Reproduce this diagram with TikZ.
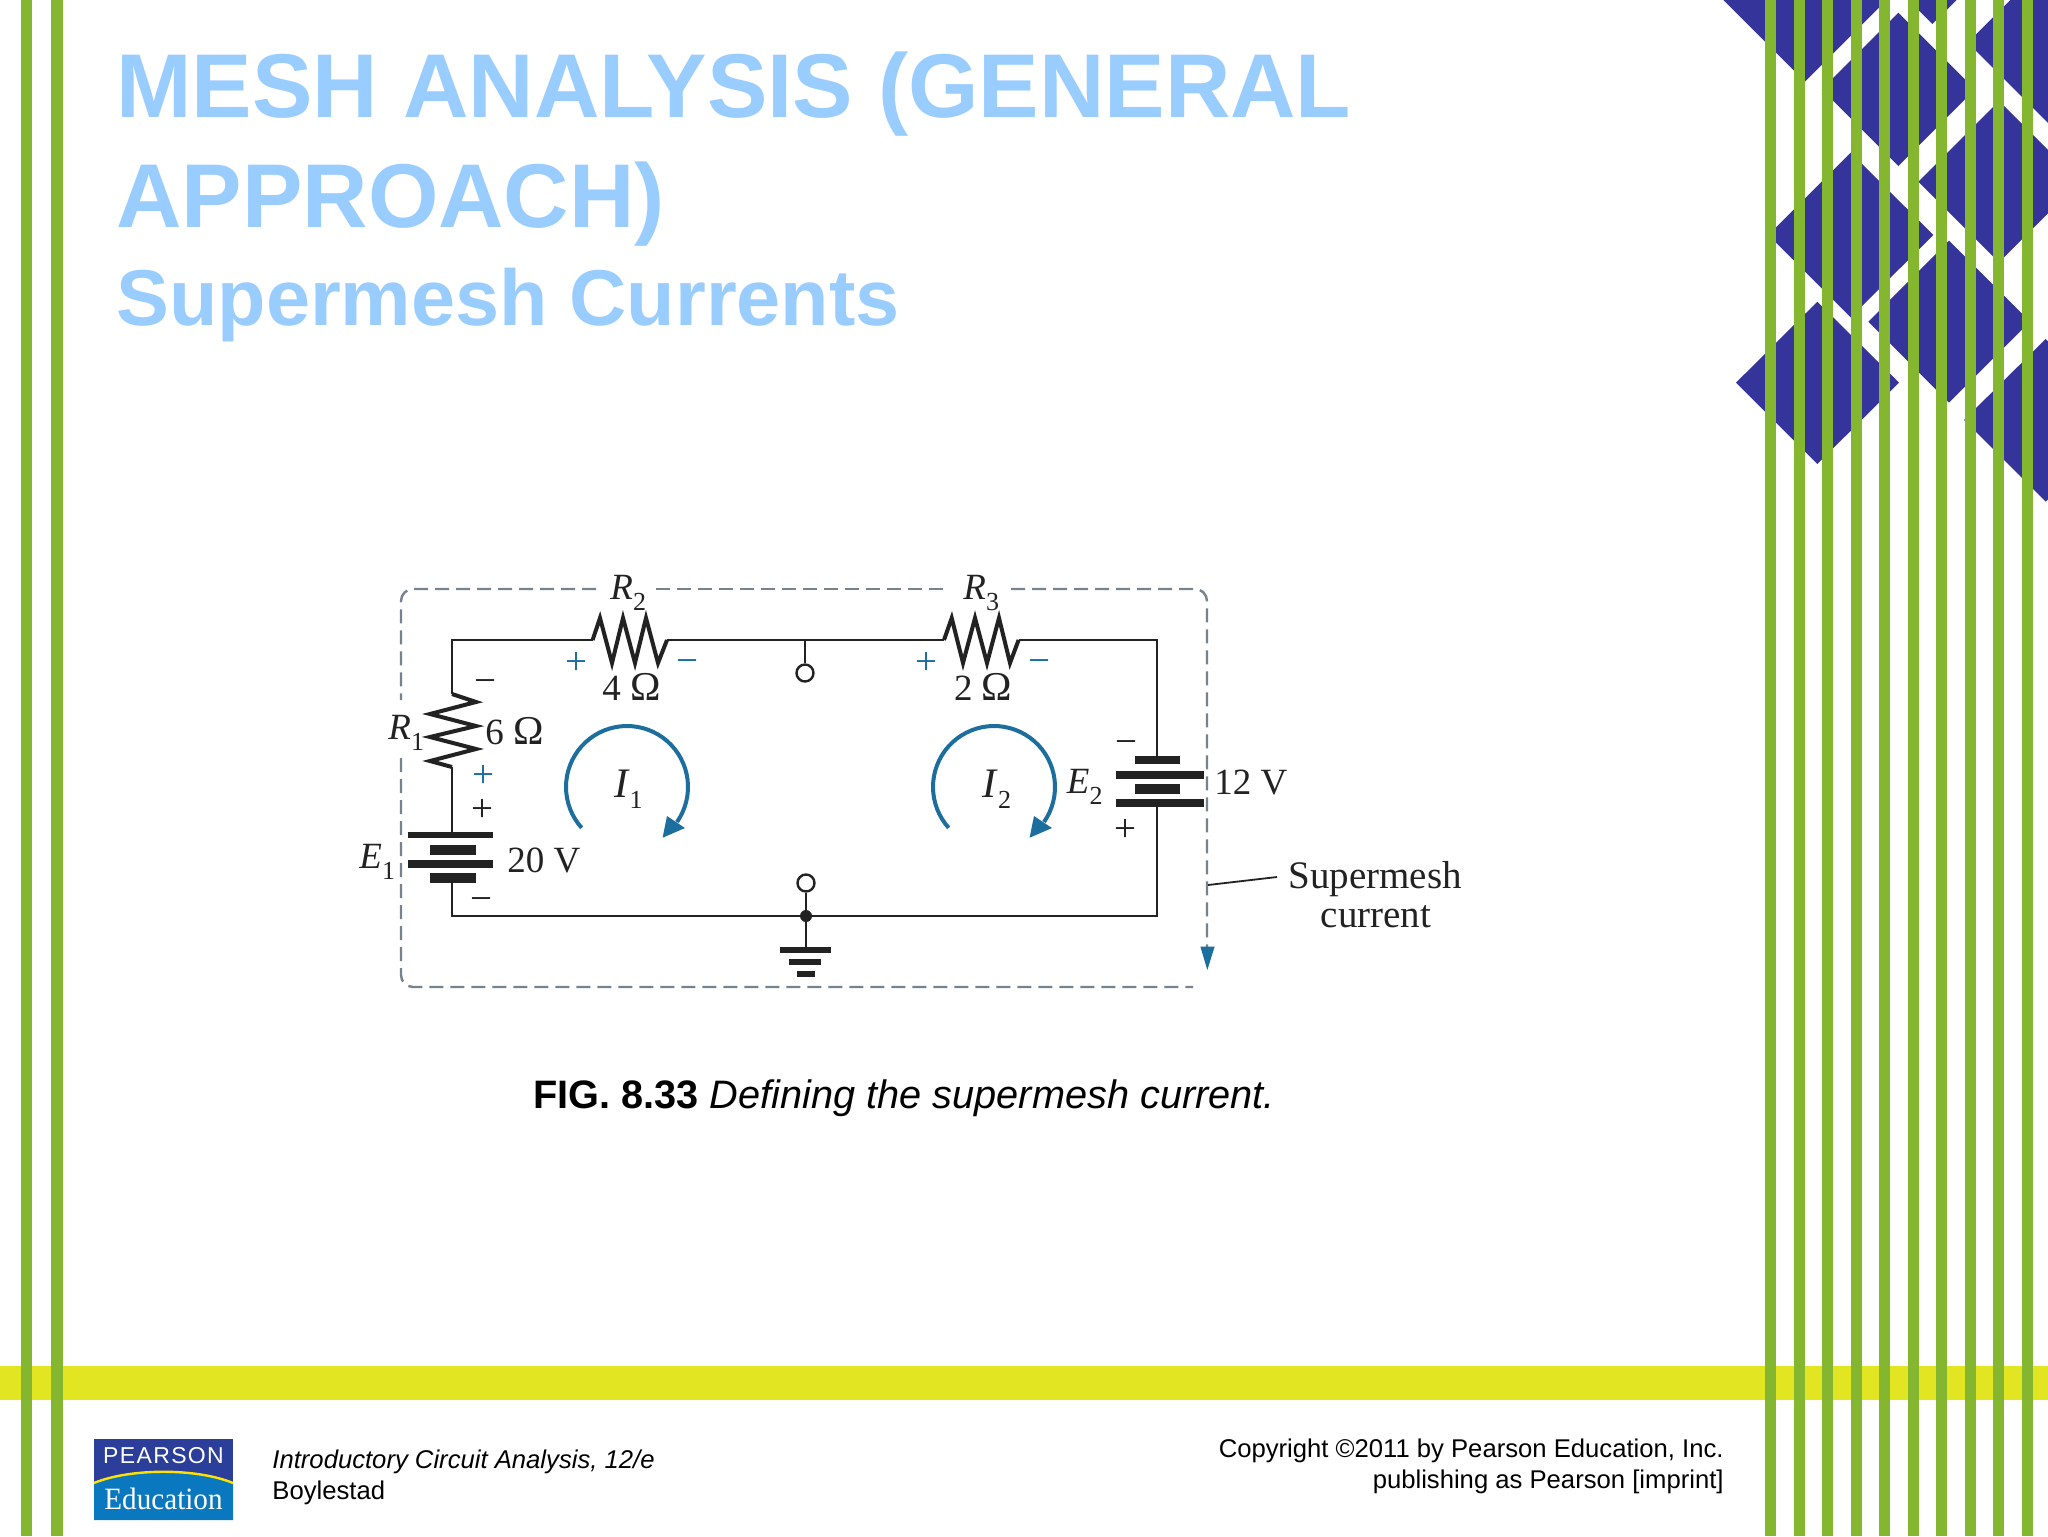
\documentclass[tikz,border=0pt]{standalone}
\usepackage{fontspec}
\setmainfont{Liberation Sans}
\newfontfamily\ser{Liberation Serif}
\newfontfamily\serls[LetterSpace=6]{Liberation Sans}
\definecolor{stripec}{HTML}{84B62F}
\definecolor{bandc}{HTML}{E2E622}
\definecolor{diac}{HTML}{35349A}
\definecolor{ttlc}{HTML}{99CCFF}
\definecolor{cblue}{HTML}{1C6E9E}
\definecolor{dashc}{HTML}{76838F}
\definecolor{inkc}{HTML}{222222}
\definecolor{lgtop}{HTML}{2A3E9A}
\definecolor{lgbot}{HTML}{0A78BE}
\newcommand\subn[1]{\raisebox{-5.5pt}{\fontsize{13}{14}\selectfont #1}}
\newcommand\ohm{{\fontsize{20.5}{22}\selectfont Ω}}
\newcommand\meshloop[2]{%
  \draw[line width=2pt,cblue] plot[domain=138:395,samples=50] ({#1+61*cos(\x)},{#2+61*sin(\x)});
  \fill[cblue] (#1+35.6,#2+50.7) -- (#1+40,#2+29) -- (#1+58,#2+41) -- cycle;}
\tikzset{
  wire/.style={line width=1.2pt,inkc,line join=miter},
  zig/.style={line width=2pt,inkc,line join=miter,miter limit=10},
  dashline/.style={line width=1.2pt,dashc,dash pattern=on 7pt off 3.5pt,rounded corners=6pt},
  lab/.style={anchor=base west,inner sep=0pt,font=\ser\fontsize{18.5}{20}\selectfont,text=inkc},
  signk/.style={inner sep=0pt,font=\ser\fontsize{19.5}{20}\selectfont,text=inkc},
  bsign/.style={signk,text=cblue},
  term/.style={circle,draw=inkc,line width=1.2pt,fill=white,inner sep=0pt,minimum size=8.5pt},
  jdot/.style={circle,fill=inkc,inner sep=0pt,minimum size=6pt},
  ttlA/.style={anchor=base west,inner sep=0pt,text=ttlc,font=\bfseries\fontsize{45.3}{50}\selectfont},
  ttlB/.style={anchor=base west,inner sep=0pt,text=ttlc,font=\bfseries\fontsize{39.6}{42}\selectfont},
  foot/.style={inner sep=0pt,text=black,font=\fontsize{12.83}{15}\selectfont},
}
\begin{document}
\begin{tikzpicture}[x=0.5pt,y=-0.5pt]
\useasboundingbox (0,0) rectangle (2048,1536);
\fill[white] (0,0) rectangle (2048,1536);
% diamonds
\begin{scope}[xshift=850pt,x=0.16667pt,y=-0.16667pt]
\fill[diac] (70,0) -- (315,245) -- (560,0) -- cycle;
\fill[diac] (625,0) -- (697,72) -- (770,0) -- cycle;
\fill[diac] (595,38) -- (825,268) -- (595,498) -- (365,268) -- cycle;
\fill[diac] (803,128) -- (931,0) -- (1044,0) -- (1044,369) -- cycle;
\fill[diac] (655,545) -- (897,303) -- (1044,450) -- (1044,640) -- (897,787) -- cycle;
\fill[diac] (452,458) -- (700,705) -- (452,952) -- (205,705) -- cycle;
\fill[diac] (747,722) -- (990,965) -- (747,1208) -- (505,965) -- cycle;
\fill[diac] (352,905) -- (597,1148) -- (352,1392) -- (108,1148) -- cycle;
\fill[diac] (792,1260) -- (1037,1017) -- (1044,1024) -- (1044,1498) -- (1037,1505) -- cycle;
\end{scope}
% band and stripes
\fill[bandc] (0,1366) rectangle (2048,1400);
\foreach \i in {0,...,9} {
  \fill[stripec] ({1765+28.5*\i},0) rectangle ({1776.3+28.5*\i},1536);
}
\fill[stripec] (21,0) rectangle (32,1536);
\fill[stripec] (51,0) rectangle (63,1536);
% title
\node[ttlA] (t1) at (116,118) {MESH ANALYSIS (GENERAL};
\node[ttlA] (t2) at (116,227) {APPROACH)};
\node[ttlB] (t3) at (116,325) {Supermesh Currents};
% circuit coordinates
\coordinate (nw) at (452,640);
\coordinate (r2a) at (592.6,640);
\coordinate (r2b) at (667,640);
\coordinate (tt) at (805,640);
\coordinate (r3a) at (944,640);
\coordinate (r3b) at (1018.6,640);
\coordinate (ne) at (1157,640);
\coordinate (e2t) at (1157,760);
\coordinate (e2b) at (1157,803);
\coordinate (se) at (1157,916);
\coordinate (sw) at (452,916);
\coordinate (e1b) at (452,878);
\coordinate (e1t) at (452,835);
\coordinate (r1b) at (452,767);
\coordinate (r1a) at (452,694);
\node[jdot] (jn) at (806,916) {};
\node[term] (tA) at (805,673) {};
\node[term] (tB) at (806,883) {};
\coordinate (gn) at (806,950);
% dashed supermesh
\draw[dashline] (596,589) -- (401,589) -- (401,700);
\draw[dashline] (401,758) -- (401,987) -- (1193,987);
\draw[dashline] (656,589) -- (950,589);
\draw[dashline] (1011,589) -- (1207,589) -- (1207,947);
\fill[cblue] (1200.4,946.7) -- (1214.6,946.7) -- (1207.3,970) -- cycle;
% wires
\draw[wire] (r1a) -- (nw) -- (r2a);
\draw[wire] (r2b) -- (tt) -- (r3a);
\draw[wire] (r3b) -- (ne) -- (e2t);
\draw[wire] (e2b) -- (se) -- (jn) -- (sw) -- (e1b);
\draw[wire] (e1t) -- (r1b);
\draw[wire] (tt) -- (tA);
\draw[wire] (jn) -- (tB);
\draw[wire] (jn) -- (gn);
% resistors
\draw[zig] (r2a) -- (600,618) -- (612,663) -- (623,618) -- (635,663) -- (646,618) -- (658,663) -- (r2b);
\draw[zig] (r3a) -- (951.7,618) -- (963,663) -- (975,618) -- (987,663) -- (999,618) -- (1010,663) -- (r3b);
\draw[zig] (r1a) -- (476,702) -- (430,714) -- (476,726) -- (430,737) -- (476,749) -- (430,761) -- (r1b);
% batteries
\fill[inkc] (408,832.3) rectangle (493,838.3);
\fill[inkc] (430,845) rectangle (476,855);
\fill[inkc] (408,860) rectangle (493,868);
\fill[inkc] (430,873) rectangle (476,883);
\fill[inkc] (1135,756) rectangle (1180,764);
\fill[inkc] (1116,771) rectangle (1203.5,779);
\fill[inkc] (1135,784) rectangle (1180,794);
\fill[inkc] (1116,799) rectangle (1203.5,807);
% ground
\fill[inkc] (780,947) rectangle (831,953);
\fill[inkc] (788.5,959) rectangle (821,965);
\fill[inkc] (797,971) rectangle (814.5,977);
% loops
\meshloop{627}{787}
\meshloop{994}{787}
% labels
\node[lab] (R2) at (610,599) {\textit{R}\subn{2}};
\node[lab] (R3) at (963,599) {\textit{R}\subn{3}};
\node[lab] (v4) at (602,700) {4 \ohm};
\node[lab] (v2) at (953.6,700) {2 \ohm};
\node[lab] (R1) at (388,739) {\textit{R}\subn{1}};
\node[lab] (v6) at (485,744) {6 \ohm};
\node[lab,font=\ser\fontsize{21}{22}\selectfont] (I1) at (613.6,797) {\textit{I}\subn{1}};
\node[lab,font=\ser\fontsize{21}{22}\selectfont] (I2) at (982,797) {\textit{I}\subn{2}};
\node[lab] (E1) at (359,868) {\textit{E}\subn{1}};
\node[lab] (v20) at (507,872) {20 V};
\node[lab] (E2) at (1066.5,793) {\textit{E}\subn{2}};
\node[lab] (v12) at (1214,794) {12 V};
\node[lab,anchor=base,font=\ser\fontsize{19.5}{20}\selectfont] (sm1) at (1375,888) {Supermesh};
\node[lab,anchor=base,font=\ser\fontsize{19.5}{20}\selectfont] (sm2) at (1376,927) {current};
\coordinate (smc) at (1277,877);
\coordinate (smd) at (1208,885);
\draw[line width=0.9pt,inkc] (smc) -- (smd);
% signs
\node[bsign] (p1) at (576.5,663) {+};
\node[bsign] (m1) at (687.5,667) {−};
\node[bsign] (p2) at (926,663) {+};
\node[bsign] (m2) at (1039,667) {−};
\node[signk] (m3) at (485.4,687) {−};
\node[bsign] (p3) at (483.5,776.5) {+};
\node[signk] (p4) at (482.4,810.5) {+};
\node[signk] (m4) at (481,905) {−};
\node[signk] (m5) at (1126.5,748) {−};
\node[signk] (p5) at (1125.8,830.5) {+};
% caption
\node[anchor=base west,inner sep=0pt,font=\fontsize{19.85}{24}\selectfont] (cap) at (533,1108.5) {\textbf{FIG. 8.33} \textit{Defining the supermesh current.}};
% footer
\node[foot,anchor=base west] (f1) at (272,1468) {\textit{Introductory Circuit Analysis, 12/e}};
\node[foot,anchor=base west] (f2) at (272,1499) {Boylestad};
\node[foot,anchor=base east] (f3) at (1724,1457.5) {Copyright ©2011 by Pearson Education, Inc.};
\node[foot,anchor=base east] (f4) at (1724,1488.5) {publishing as Pearson [imprint]};
% logo
\fill[lgtop] (94,1439) rectangle (233,1520);
\fill[lgbot] (94,1483) .. controls (130,1468) and (197,1468) .. (233,1483) -- (233,1520) -- (94,1520) -- cycle;
\draw[line width=1.2pt,yellow!85!orange] (94,1483) .. controls (130,1468) and (197,1468) .. (233,1483);
\node[anchor=base,inner sep=0pt,text=white,font=\serls\fontsize{11.5}{12}\selectfont] (lg1) at (163.5,1463) {PEARSON};
\node[anchor=base,inner sep=0pt,text=white,font=\ser\fontsize{15.5}{16}\selectfont] (lg2) at (163.5,1509) {\scalebox{0.94}[1]{Education}};
\end{tikzpicture}
\end{document}
